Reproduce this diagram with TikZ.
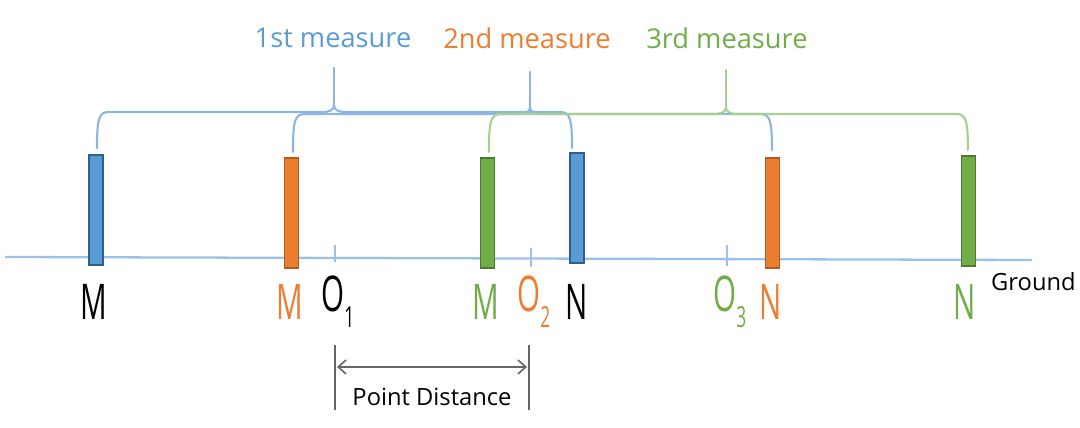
\documentclass[tikz,border=0pt]{standalone}
\usepackage{fontspec}
\setmainfont{Open Sans}
\newfontfamily\narrowfont[FakeStretch=0.6]{Open Sans}
\usetikzlibrary{arrows.meta}
\definecolor{mblue}{HTML}{5B9BD5}
\definecolor{mblueD}{HTML}{2F5F8F}
\definecolor{morange}{HTML}{ED7D31}
\definecolor{morangeD}{HTML}{B35A1F}
\definecolor{mgreen}{HTML}{70AD47}
\definecolor{mgreenD}{HTML}{4E7A31}
\definecolor{gline}{HTML}{9BC2E6}
\definecolor{bblue}{HTML}{8DB5E2}
\definecolor{bgreen}{HTML}{A8D08D}
\definecolor{dimgray}{HTML}{666666}
\tikzset{
  post/.style={rectangle, inner sep=0pt, minimum width=0.28cm, minimum height=2.2cm, line width=0.6pt},
  brace/.style={line width=1.2pt, line cap=round},
  pt/.style={inner sep=0pt, font=\narrowfont\fontsize{28}{28}\selectfont},
  title/.style={font=\fontsize{15.5}{17}\selectfont},
  plain/.style={font=\fontsize{13.5}{15}\selectfont},
}
\newcommand{\lowidx}[1]{\raisebox{-9pt}{\fontsize{16.5}{16.5}\selectfont #1}}
\begin{document}
\begin{tikzpicture}[x=0.02cm, y=-0.02cm, >={Straight Barb[length=4.5pt,width=8pt]}]
\useasboundingbox (0,0) rectangle (1080,428);
\draw[gline, line width=1.3pt] (5,257) -- (1032,260);
\node[plain, anchor=west] (ground) at (985,282) {Ground};
\begin{scope}
\node[post, fill=mblue, draw=mblueD] (m1) at (96,210) {};
\node[post, fill=mblue, draw=mblueD] (n1) at (577,208) {};
\draw[gline, line width=0.8pt] (335,245) -- (335,262);
\node[pt] (lm1) at (94,302) {M};
\node[pt, anchor=west] (lo1) at (321,302) {O\lowidx{1}};
\node[pt] (ln1) at (577,302) {N};
\draw[brace, bblue] (97,148) .. controls (97,118) and (99,112) .. (109,112) -- (322,112) .. controls (330,112) and (334,110) .. (334,105) .. controls (334,110) and (338,112) .. (346,112) -- (560,112) .. controls (570,112) and (572,118) .. (572,148);
\draw[brace, bblue] (334,105) -- (334,68);
\node[title, mblue] (t1) at (333,38) {1st measure};
\end{scope}
\begin{scope}[xshift=3.92cm]
\node[post, fill=morange, draw=morangeD] (m2) at (96,213) {};
\node[post, fill=morange, draw=morangeD] (n2) at (577,213) {};
\draw[gline, line width=0.8pt] (335,248) -- (335,267);
\node[pt, morange] (lm2) at (94,302) {M};
\node[pt, morange, anchor=west] (lo2) at (321,302) {O\lowidx{2}};
\node[pt, morange] (ln2) at (575,302) {N};
\draw[brace, bblue] (97,152) .. controls (97,120) and (99,114) .. (109,114) -- (322,114) .. controls (330,114) and (334,112) .. (334,107) .. controls (334,112) and (338,114) .. (346,114) -- (564,114) .. controls (574,114) and (576,120) .. (576,150);
\draw[brace, bblue] (334,107) -- (334,72);
\node[title, morange] (t2) at (331,38) {2nd measure};
\end{scope}
\begin{scope}[xshift=7.84cm]
\node[post, fill=mgreen, draw=mgreenD] (m3) at (96,213) {};
\node[post, fill=mgreen, draw=mgreenD] (n3) at (577,211) {};
\draw[gline, line width=0.8pt] (335,245) -- (335,266);
\node[pt, mgreen] (lm3) at (94,302) {M};
\node[pt, mgreen, anchor=west] (lo3) at (321,302) {O\lowidx{3}};
\node[pt, mgreen] (ln3) at (573,302) {N};
\draw[brace, bgreen] (97,152) .. controls (97,120) and (99,114) .. (109,114) -- (322,114) .. controls (330,114) and (334,112) .. (334,107) .. controls (334,112) and (338,114) .. (346,114) -- (564,114) .. controls (574,114) and (576,120) .. (576,150);
\draw[brace, bgreen] (334,107) -- (334,70);
\node[title, mgreen] (t3) at (335,38) {3rd measure};
\end{scope}
% point distance
\coordinate (d1t) at (335,345);
\coordinate (d1b) at (335,410);
\coordinate (d2t) at (529,345);
\coordinate (d2b) at (529,410);
\draw[dimgray, line width=0.9pt] (d1t) -- (d1b);
\draw[dimgray, line width=0.9pt] (d2t) -- (d2b);
\coordinate (a1) at (337,367);
\coordinate (a2) at (527,367);
\draw[dimgray, line width=0.9pt, <->] (a1) -- (a2);
\node[plain] (pd) at (432,397) {Point Distance};
\end{tikzpicture}
\end{document}
